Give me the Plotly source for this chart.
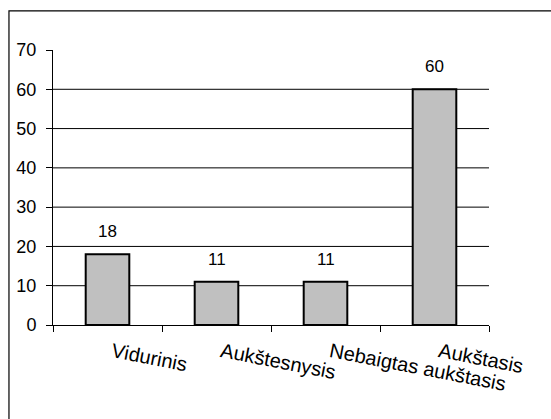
import plotly.graph_objects as go

categories = ["Vidurinis", "Aukštesnysis", "Nebaigtas aukštasis", "Aukštasis"]
values = [18, 11, 11, 60]
y_ticks = [0, 10, 20, 30, 40, 50, 60, 70]
grid_vals = [10, 20, 30, 40, 50, 60]

FONT = "Liberation Sans, Arial, sans-serif"

fig = go.Figure()
fig.add_trace(go.Bar(
    x=categories, y=values,
    marker=dict(color="#C0C0C0", line=dict(color="black", width=2)),
    width=0.4,
    hoverinfo="skip",
))

for c, v in zip(categories, values):
    fig.add_annotation(x=c, y=v, text=str(v), showarrow=False,
                       yanchor="bottom", yshift=11,
                       font=dict(family=FONT, size=17, color="black"))

shapes = []
for g in grid_vals:
    shapes.append(dict(type="line", xref="paper", yref="y", x0=0, x1=1, y0=g, y1=g,
                       line=dict(color="black", width=1), layer="below"))
# outer chart border
shapes.append(dict(type="rect", xref="paper", yref="paper", x0=-0.101, x1=1.3,
                   y0=-0.5, y1=1.142, line=dict(color="black", width=1.2),
                   fillcolor="rgba(0,0,0,0)"))

fig.update_layout(
    width=551, height=419,
    margin=dict(l=53, r=62, t=50, b=94, autoexpand=False),
    paper_bgcolor="white", plot_bgcolor="white",
    showlegend=False,
    font=dict(family=FONT, size=18, color="black"),
    shapes=shapes,
    xaxis=dict(
        type="category", showgrid=False, showline=True, linecolor="black", linewidth=1,
        ticks="outside", tickson="boundaries", ticklen=6, tickcolor="black",
        tickangle=11, tickfont=dict(family=FONT, size=20, color="black"),
        ticklabelstandoff=7, ticklabelshift=5, automargin=False,
    ),
    yaxis=dict(
        range=[0, 70], tickvals=y_ticks, showgrid=False, zeroline=False,
        showline=True, linecolor="black", linewidth=1,
        ticks="outside", ticklen=6, tickcolor="black",
        tickfont=dict(family=FONT, size=18, color="black"),
        ticklabelstandoff=6, automargin=False,
    ),
)

fig.write_html("out.html", config={"displayModeBar": False},
               post_script="document.body.style.margin='0';document.body.style.overflow='hidden';")
